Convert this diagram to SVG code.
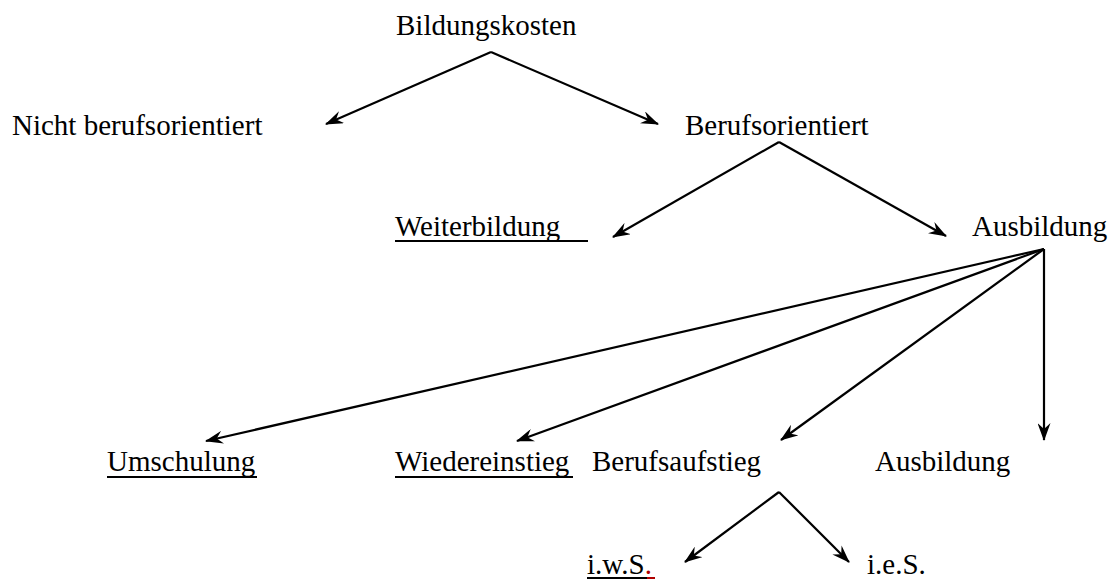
<svg xmlns="http://www.w3.org/2000/svg" width="1113" height="581" viewBox="0 0 1113 581">
<style>
text{font-family:"Liberation Serif","Times New Roman",serif;font-size:29px;fill:#000}
.c line{stroke:#000;stroke-width:2.2;fill:none;marker-end:url(#ah)}
.u{stroke:#000;stroke-width:2}
</style>
<defs>
<marker id="ah" viewBox="0 0 18 13" refX="17" refY="6.5" markerWidth="18" markerHeight="13" markerUnits="userSpaceOnUse" orient="auto">
<path d="M0,0 L18,6.5 L0,13 L6,6.5 Z" fill="#000"/>
</marker>
</defs>
<rect width="1113" height="581" fill="#fff"/>
<g class="c" id="connectors">
<line x1="491" y1="52" x2="326" y2="124"/>
<line x1="491" y1="52" x2="658" y2="124"/>
<line x1="779" y1="142" x2="613" y2="237"/>
<line x1="779" y1="142" x2="946" y2="236"/>
<line x1="1044" y1="249" x2="206" y2="441"/>
<line x1="1044" y1="249" x2="517" y2="441"/>
<line x1="1044" y1="249" x2="781" y2="440"/>
<line x1="1044" y1="249" x2="1044" y2="440"/>
<line x1="779" y1="492" x2="685" y2="562"/>
<line x1="779" y1="492" x2="849" y2="562"/>
</g>
<g id="n-bildungskosten"><text x="396" y="35">Bildungskosten</text></g>
<g id="n-nicht"><text x="12" y="135">Nicht berufsorientiert</text></g>
<g id="n-berufsorientiert"><text x="685" y="135">Berufsorientiert</text></g>
<g id="n-weiterbildung"><text x="395" y="236">Weiterbildung</text><line class="u" x1="395" y1="241" x2="588" y2="241"/></g>
<g id="n-ausbildung1"><text x="972" y="236">Ausbildung</text></g>
<g id="n-umschulung"><text x="107" y="471">Umschulung</text><line class="u" x1="107" y1="477" x2="257" y2="477"/></g>
<g id="n-wiedereinstieg"><text x="395" y="471">Wiedereinstieg</text><line class="u" x1="395" y1="477" x2="573" y2="477"/></g>
<g id="n-berufsaufstieg"><text x="592" y="471">Berufsaufstieg</text></g>
<g id="n-ausbildung2"><text x="875" y="471">Ausbildung</text></g>
<g id="n-iws"><text x="587" y="574">i.w.S<tspan fill="#b00000">.</tspan></text><line class="u" x1="587" y1="578" x2="648" y2="578"/><line x1="647" y1="578" x2="655" y2="578" stroke="#b00000" stroke-width="2"/></g>
<g id="n-ies"><text x="867" y="574">i.e.S.</text></g>
</svg>
